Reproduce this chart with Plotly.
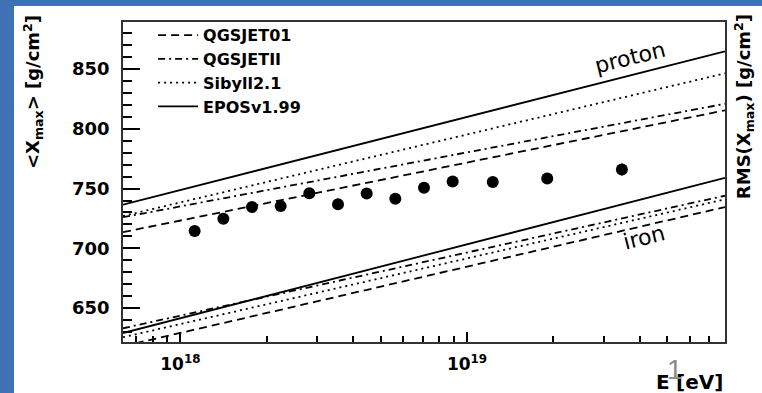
import plotly.graph_objects as go

# Measured mean depth of shower maximum
energy_eV = [1.122e18, 1.413e18, 1.778e18, 2.239e18, 2.818e18, 3.548e18, 4.467e18,
             5.623e18, 7.079e18, 8.913e18, 1.230e19, 1.905e19, 3.470e19]
xmax_mean = [714.5, 724.8, 734.5, 735.3, 746.0, 736.9, 745.8,
             741.4, 750.6, 756.0, 755.5, 758.4, 765.9]
xmax_err = [2.5, 2.5, 2.5, 2.5, 2.5, 2.5, 2.5, 2.5, 3.0, 3.5, 3.0, 3.5, 5.0]

# Model predictions (straight lines in log E), values at both ends of the energy range
model_energy = [6.31e17, 7.94e19]
models = ["QGSJET01", "QGSJETII", "Sibyll2.1", "EPOSv1.99"]
proton_xmax = {
    "QGSJET01": [713.5, 815.5],
    "QGSJETII": [726.0, 821.0],
    "Sibyll2.1": [727.0, 846.5],
    "EPOSv1.99": [736.5, 865.0],
}
iron_xmax = {
    "QGSJET01": [618.0, 734.5],
    "QGSJETII": [633.0, 744.0],
    "Sibyll2.1": [625.5, 741.0],
    "EPOSv1.99": [629.0, 759.0],
}
dash_style = {
    "QGSJET01": "8px,5px",
    "QGSJETII": "7px,4px,2px,4px",
    "Sibyll2.1": "2px,4px",
    "EPOSv1.99": "solid",
}

x_major = [1e18, 1e19]
x_major_text = ["10<sup>18</sup>", "10<sup>19</sup>"]
x_minor = [7e17, 8e17, 9e17, 2e18, 3e18, 4e18, 5e18, 6e18, 7e18, 8e18, 9e18,
           2e19, 3e19, 4e19, 5e19, 6e19, 7e19]
y_major = [650, 700, 750, 800, 850]

FONT = "DejaVu Sans"

fig = go.Figure()

for m in models:
    fig.add_trace(go.Scatter(
        x=model_energy, y=proton_xmax[m], mode="lines", name=m,
        legendgroup=m, showlegend=True,
        line=dict(color="black", width=1.8, dash=dash_style[m]),
    ))
for m in models:
    fig.add_trace(go.Scatter(
        x=model_energy, y=iron_xmax[m], mode="lines", name=m,
        legendgroup=m, showlegend=False,
        line=dict(color="black", width=1.8, dash=dash_style[m]),
    ))

fig.add_trace(go.Scatter(
    x=energy_eV, y=xmax_mean, mode="markers", showlegend=False,
    marker=dict(color="black", size=12),
    error_y=dict(type="data", array=xmax_err, color="black", thickness=1.5, width=0),
))

# Slide backdrop: white card on a blue background
fig.add_shape(type="rect", xref="paper", yref="paper",
              x0=-0.181, x1=1.07, y0=-0.17, y1=1.05,
              fillcolor="white", line=dict(width=0), layer="below")

fig.update_layout(
    width=762, height=393,
    margin=dict(l=123, r=37, t=22, b=51),
    paper_bgcolor="#3f72b5",
    plot_bgcolor="white",
    showlegend=True,
    legend=dict(
        x=0.05, y=1.012, xanchor="left", yanchor="top",
        bgcolor="rgba(0,0,0,0)", borderwidth=0,
        font=dict(family=FONT, size=16, color="black", weight="bold"),
        tracegroupgap=0, itemwidth=40,
    ),
    xaxis=dict(
        type="log", range=[17.8, 19.9],
        tickmode="array", tickvals=x_major, ticktext=x_major_text,
        ticks="inside", ticklen=10, tickwidth=1.5, tickcolor="black",
        minor=dict(tickmode="array", tickvals=x_minor, ticks="inside",
                   ticklen=6, tickwidth=1.5, tickcolor="black"),
        showline=True, linecolor="#333", linewidth=1.5, mirror=True,
        showgrid=False, zeroline=False,
        tickfont=dict(family=FONT, size=17, color="black", weight="bold"),
        ticklabelstandoff=6,
    ),
    yaxis=dict(
        range=[621.5, 889.5],
        tickmode="array", tickvals=y_major,
        ticks="inside", ticklen=17, tickwidth=2, tickcolor="black",
        minor=dict(dtick=10, tick0=650, ticks="inside", ticklen=9,
                   tickwidth=1.5, tickcolor="black"),
        showline=True, linecolor="#333", linewidth=1.5, mirror=True,
        showgrid=False, zeroline=False,
        tickfont=dict(family=FONT, size=18, color="black", weight="bold"),
        ticklabelstandoff=8,
    ),
)

annotations = [
    dict(text="&lt;X<sub>max</sub>&gt; [g/cm<sup>2</sup>]", x=-0.1495, y=0.781,
         textangle=-90, font=dict(family=FONT, size=18, color="black", weight="bold")),
    dict(text="RMS(X<sub>max</sub>) [g/cm<sup>2</sup>]", x=1.0316, y=0.734,
         textangle=-90, font=dict(family=FONT, size=18, color="black", weight="bold")),
    dict(text="E", x=(663 - 123) / 602, y=(342 - 382) / 320,
         font=dict(family=FONT, size=20, color="black", weight="bold")),
    dict(text="[eV]", x=1.0, y=(342 - 382) / 320, xanchor="right",
         font=dict(family=FONT, size=20, color="black", weight="bold")),
    dict(text="1", x=(675 - 123) / 602, y=(342 - 369) / 320,
         font=dict(family="Liberation Sans", size=28, color="#8a8a8a")),
    dict(text="proton", x=(630 - 123) / 602, y=(342 - 57) / 320, textangle=-14,
         font=dict(family=FONT, size=22, color="black")),
    dict(text="iron", x=(644 - 123) / 602, y=(342 - 237) / 320, textangle=-14,
         font=dict(family=FONT, size=22, color="black")),
]
for a in annotations:
    a.setdefault("xanchor", "center")
    fig.add_annotation(xref="paper", yref="paper", showarrow=False, yanchor="middle", **a)

fig.write_html("out.html")
